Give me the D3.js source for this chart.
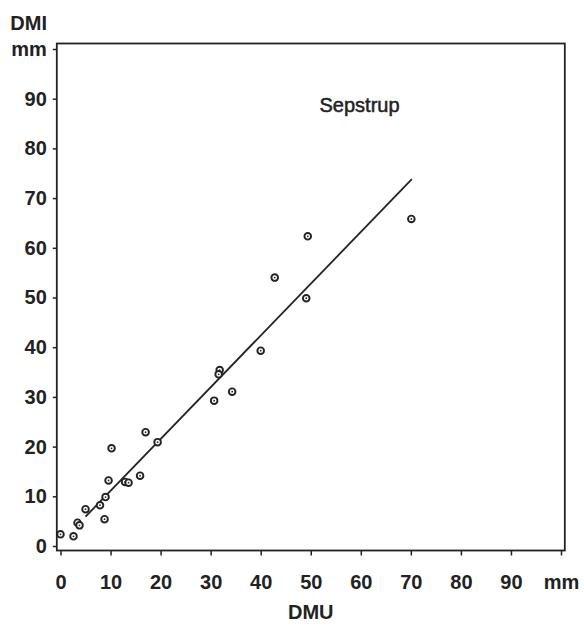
<!DOCTYPE html>
<html>
<head>
<meta charset="utf-8">
<script src="https://cdn.jsdelivr.net/npm/d3@7"></script>
<style>
  html, body { margin: 0; padding: 0; background: #fff; }
  svg { display: block; }
  text { font-family: "Liberation Sans", Arial, Helvetica, sans-serif; fill: #222; }
</style>
</head>
<body>
<svg id="chart" width="584" height="626"></svg>
<script>
// Paired measurements (mm): DMU on x, DMI on y
const dmu = [0.0, 2.6, 3.4, 3.8, 5.0, 7.9, 8.8, 9.0, 9.6, 10.2, 12.9, 13.6, 15.9, 17.0, 19.4,
             30.7, 31.8, 31.6, 34.3, 40.0, 42.8, 49.4, 49.1, 70.1];
const dmi = [2.35, 1.95, 4.7, 4.15, 7.4, 8.2, 5.4, 9.85, 13.2, 19.65, 12.9, 12.75, 14.15, 22.9, 20.9,
             29.25, 35.4, 34.55, 31.05, 39.3, 54.0, 62.3, 49.85, 65.8];

// Fitted line end points (DMU, DMI)
const fitX = [5.0, 70.2];
const fitY = [5.9, 73.8];

// Tick values and labels
const tickValues = [0, 10, 20, 30, 40, 50, 60, 70, 80, 90, 100];
const tickLabels = ["0", "10", "20", "30", "40", "50", "60", "70", "80", "90", "mm"];

const xTitle = "DMU";
const yTitle = "DMI";
const panelTitle = "Sepstrup";

const svg = d3.select("#chart");
const ink = "#222";

const x = d3.scaleLinear().domain([0, 100]).range([60.5, 561]);
const y = d3.scaleLinear().domain([0, 100]).range([546, 49]);

// Frame around the plotting area
svg.append("rect")
  .attr("x", 56.8).attr("y", 43.5)
  .attr("width", 508).attr("height", 507)
  .attr("fill", "none").attr("stroke", ink).attr("stroke-width", 1.8);

const labelFor = d => tickLabels[tickValues.indexOf(d)];

// X axis (at frame bottom)
const xAxis = svg.append("g")
  .attr("transform", "translate(0,550.5)")
  .call(d3.axisBottom(x).tickValues(tickValues).tickFormat(labelFor).tickSize(5).tickPadding(19));
xAxis.select(".domain").remove();
xAxis.selectAll(".tick line").attr("stroke", ink).attr("stroke-width", 1.5);
xAxis.selectAll(".tick text")
  .attr("font-size", 20).attr("font-weight", "bold").attr("fill", ink)
  .style("font-family", "'Liberation Sans', Arial, sans-serif");

// Y axis (at frame left)
const yAxis = svg.append("g")
  .attr("transform", "translate(56.8,0)")
  .call(d3.axisLeft(y).tickValues(tickValues).tickFormat(labelFor).tickSize(4).tickPadding(6));
yAxis.select(".domain").remove();
yAxis.selectAll(".tick line").attr("stroke", ink).attr("stroke-width", 1.5);
yAxis.selectAll(".tick text")
  .attr("font-size", 20).attr("font-weight", "bold").attr("fill", ink)
  .style("font-family", "'Liberation Sans', Arial, sans-serif");

// Axis titles
svg.append("text")
  .attr("x", 47).attr("y", 30)
  .attr("text-anchor", "end")
  .attr("font-size", 20).attr("font-weight", "bold")
  .text(yTitle);

svg.append("text")
  .attr("x", x(50)).attr("y", 619)
  .attr("text-anchor", "middle")
  .attr("font-size", 20).attr("font-weight", "bold")
  .text(xTitle);

// Panel title (slightly heavier than regular weight)
svg.append("text")
  .attr("x", 319.5).attr("y", 111.5)
  .attr("font-size", 20)
  .attr("stroke", ink).attr("stroke-width", 0.5)
  .text(panelTitle);

// Fitted line
svg.append("line")
  .attr("x1", x(fitX[0])).attr("y1", y(fitY[0]))
  .attr("x2", x(fitX[1])).attr("y2", y(fitY[1]))
  .attr("stroke", ink).attr("stroke-width", 1.8);

// Points: open circle with a centre dot
const pts = svg.append("g").selectAll("g")
  .data(dmu.map((d, i) => ({ u: d, i: dmi[i] })))
  .join("g")
  .attr("transform", d => `translate(${x(d.u)},${y(d.i)})`);
pts.append("circle").attr("r", 3.3)
  .attr("fill", "#fff").attr("stroke", ink).attr("stroke-width", 1.9);
pts.append("circle").attr("r", 0.9).attr("fill", ink);
</script>
</body>
</html>
